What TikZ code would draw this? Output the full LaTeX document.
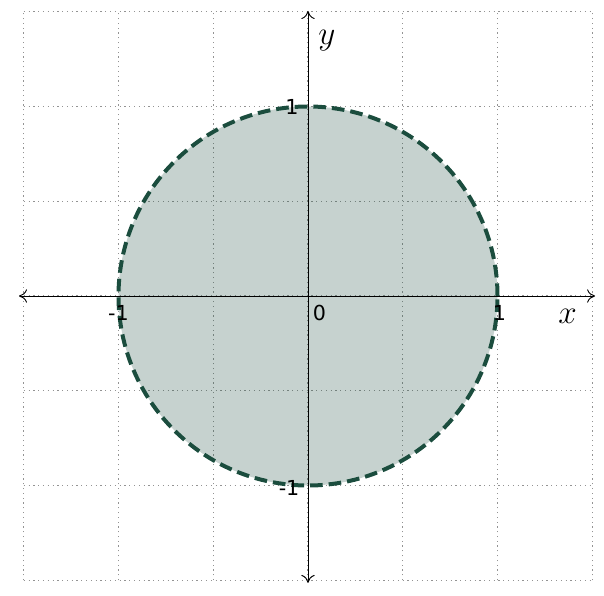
\documentclass[tikz,border=0pt]{standalone}
\usepackage{fontspec}
\newfontfamily\ticksfont{DejaVu Sans}
\definecolor{dkgreen}{HTML}{1B4D3E}
\usetikzlibrary{calc, positioning, arrows.meta}

\begin{document}
\begin{tikzpicture}[x=5cm, y=5cm,
  gridline/.style={draw=gray!85, line width=0.9pt, dash pattern=on 0.9pt off 2.7pt},
  axisline/.style={draw=black, line width=0.7pt, {To[length=6pt,width=10pt]}-{To[length=6pt,width=10pt]}},
  disc/.style={draw=dkgreen, fill=dkgreen, fill opacity=0.25, draw opacity=1,
               line width=3pt, dash pattern=on 9.5pt off 4.5pt},
  ticklabel/.style={font=\ticksfont\fontsize{15.5}{17}\selectfont, inner sep=1pt},
  axislabel/.style={font=\fontsize{29}{31}\selectfont, inner sep=0pt},
]
\useasboundingbox (-1.6253,-1.578) rectangle (1.562,1.562);
% grid
\foreach \g in {-1.5,-1,...,1.5} {
  \draw[gridline] (\g,-1.5) -- (\g,1.5);
  \draw[gridline] (-1.5,\g) -- (1.5,\g);
}
% unit disc
\draw[disc] (0,0) circle (1);
% axes
\coordinate (xmin) at (-1.525,0);
\coordinate (xmax) at (1.515,0);
\coordinate (ymin) at (0,-1.514);
\coordinate (ymax) at (0,1.504);
\draw[axisline] (xmin) -- (xmax);
\draw[axisline] (ymin) -- (ymax);
\node[axislabel] (xlab) at (1.37,-0.11) {$x$};
\node[axislabel] (ylab) at (0.1,1.35) {$y$};
% ticks
\node[ticklabel] (xm1) at (-1,-0.09) {-1};
\node[ticklabel] (xp1) at (1.01,-0.09) {1};
\node[ticklabel] (x0) at (0.06,-0.09) {0};
\node[ticklabel] (yp1) at (-0.085,0.995) {1};
\node[ticklabel] (ym1) at (-0.1,-1.015) {-1};
\end{tikzpicture}
\end{document}
